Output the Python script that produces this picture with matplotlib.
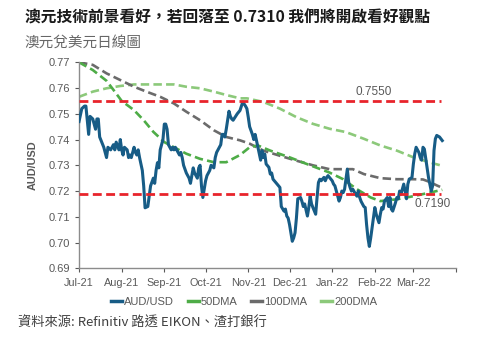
import matplotlib
matplotlib.use("Agg")
import matplotlib.pyplot as plt
import matplotlib.dates as mdates
import pandas as pd

plt.rcParams['font.family'] = ['Liberation Sans', 'Noto Sans CJK TC', 'DejaVu Sans']

base = pd.Timestamp('2021-07-01')

# AUD/USD daily close (days after 1 Jul 2021, value)
aud_day = [0, 2, 4, 5, 7, 8, 10, 12, 13, 14, 15, 18, 20, 21, 23, 25, 26, 27, 29, 30,
           31, 32, 33, 35, 36, 37, 38, 40, 41, 42, 43, 44, 46, 47, 48, 50, 51, 52, 54, 55,
           56, 57, 58, 59, 61, 62, 63, 64, 65, 67, 68, 69, 70, 72, 73, 74, 75, 76, 78, 79,
           80, 81, 82, 83, 84, 86, 87, 88, 89, 90, 92, 93, 94, 95, 96, 98, 99, 100, 101, 103,
           104, 105, 106, 107, 109, 110, 111, 112, 115, 117, 119, 121, 122, 123, 124, 126, 127, 128, 129, 130,
           132, 133, 134, 135, 136, 138, 139, 140, 141, 144, 145, 146, 147, 149, 150, 151, 152, 153, 155, 156,
           157, 158, 159, 161, 162, 163, 164, 166, 167, 168, 169, 170, 172, 173, 174, 175, 176, 178, 179, 180,
           181, 182, 184, 185, 186, 187, 189, 190, 191, 192, 193, 195, 196, 197, 198, 199, 201, 202, 203, 204,
           205, 207, 208, 209, 210, 211, 212, 213, 214, 215, 216, 218, 219, 220, 221, 222, 224, 225, 226, 227,
           228, 230, 231, 232, 233, 234, 236, 237, 238, 239, 240, 242, 243, 244, 245, 247, 248, 249, 250, 251,
           253, 254, 255, 256, 257, 258, 259, 260, 262, 263, 264]
aud_val = [0.747, 0.752, 0.753, 0.753, 0.742, 0.749, 0.748, 0.744, 0.748, 0.748, 0.741, 0.737, 0.733, 0.737, 0.736, 0.738, 0.736, 0.739, 0.736, 0.740,
           0.736, 0.734, 0.737, 0.736, 0.733, 0.734, 0.733, 0.737, 0.735, 0.734, 0.736, 0.733, 0.728, 0.722, 0.7135, 0.714, 0.718, 0.722, 0.725, 0.723,
           0.728, 0.731, 0.729, 0.736, 0.740, 0.746, 0.746, 0.744, 0.738, 0.736, 0.737, 0.736, 0.737, 0.735, 0.734, 0.735, 0.733, 0.730, 0.727, 0.726,
           0.725, 0.723, 0.726, 0.729, 0.727, 0.725, 0.729, 0.730, 0.722, 0.7175, 0.724, 0.726, 0.727, 0.728, 0.730, 0.729, 0.733, 0.735, 0.736, 0.738,
           0.742, 0.742, 0.741, 0.744, 0.751, 0.749, 0.748, 0.7475, 0.750, 0.7513, 0.7546, 0.753, 0.752, 0.7487, 0.745, 0.742, 0.740, 0.742, 0.7396, 0.737,
           0.732, 0.7357, 0.733, 0.7344, 0.7305, 0.7292, 0.7266, 0.727, 0.7246, 0.7227, 0.722, 0.7214, 0.714, 0.7122, 0.713, 0.7103, 0.7095, 0.707, 0.7005, 0.7018,
           0.7038, 0.7095, 0.717, 0.7175, 0.716, 0.714, 0.715, 0.7103, 0.7136, 0.718, 0.715, 0.7136, 0.711, 0.7175, 0.7233, 0.7246, 0.724, 0.7253, 0.724, 0.7253,
           0.726, 0.7253, 0.724, 0.7227, 0.722, 0.720, 0.7161, 0.7175, 0.720, 0.7194, 0.7207, 0.7285, 0.7233, 0.7214, 0.720, 0.7207, 0.7188, 0.718, 0.720, 0.7175,
           0.716, 0.714, 0.7136, 0.707, 0.7018, 0.6985, 0.7018, 0.7057, 0.7095, 0.7136, 0.711, 0.7077, 0.711, 0.7136, 0.713, 0.7161, 0.7175, 0.714, 0.7175, 0.713,
           0.7122, 0.7155, 0.7175, 0.717, 0.720, 0.7188, 0.7227, 0.720, 0.717, 0.7227, 0.7246, 0.7253, 0.7305, 0.7344, 0.737, 0.735, 0.733, 0.732, 0.737, 0.7363,
           0.729, 0.7253, 0.7227, 0.720, 0.722, 0.7357, 0.7403, 0.7416, 0.741, 0.7403, 0.7396]

# moving averages
ma50_day = [0, 10, 20, 25, 31, 40, 47, 54, 62, 69, 78, 88, 98, 107, 117, 124, 130, 139, 153,
            168, 182, 192, 202, 212, 219, 231, 243, 255, 264]
ma50_val = [0.770, 0.767, 0.7628, 0.7593, 0.755, 0.7514, 0.7475, 0.743, 0.739, 0.737, 0.7345, 0.7325, 0.7312, 0.7312, 0.734, 0.737, 0.7377, 0.7357, 0.7331,
            0.730, 0.7272, 0.7246, 0.7207, 0.7175, 0.7161, 0.7168, 0.718, 0.7194, 0.7205]

ma100_day = [0, 10, 20, 30, 40, 49, 59, 69, 78, 88, 98, 107, 117, 124, 134, 146, 158, 170, 182,
             194, 199, 207, 219, 231, 243, 250, 255, 260, 263]
ma100_val = [0.770, 0.769, 0.7657, 0.7631, 0.7605, 0.7586, 0.7566, 0.754, 0.7508, 0.7475, 0.7436, 0.741, 0.7397, 0.7384, 0.7357, 0.7337, 0.7318, 0.730, 0.7285,
             0.7285, 0.7285, 0.7266, 0.725, 0.7246, 0.7246, 0.7245, 0.7235, 0.7222, 0.7215]

ma200_day = [0, 10, 20, 30, 40, 49, 59, 69, 78, 88, 98, 107, 117, 122, 134, 146, 158, 170, 182,
             194, 207, 219, 231, 243, 255, 264]
ma200_val = [0.7566, 0.7586, 0.7599, 0.7608, 0.7614, 0.7614, 0.7614, 0.7614, 0.7605, 0.7599, 0.7586, 0.7573, 0.756, 0.756, 0.7546, 0.752, 0.7487, 0.7461, 0.7442,
             0.7429, 0.7403, 0.7377, 0.7357, 0.7331, 0.7311, 0.7298]

levels = [0.7550, 0.7190]
level_end_day = 263


def to_dates(days):
    return base + pd.to_timedelta(days, unit='D')


def month_label(x, pos):
    d = mdates.num2date(x)
    if d.year == 2022 and d.month == 4:
        return ''
    return d.strftime('%b-%y')


fig = plt.figure(figsize=(4.86, 3.48), dpi=100)
ax = fig.add_axes([0.1626, 0.229, 0.7757, 0.592])

dash = (0, (3.2, 1.6))
ax.plot(to_dates(ma200_day), ma200_val, color='#8cc97a', lw=1.9, ls=dash, label='200DMA', zorder=2)
ax.plot(to_dates(ma100_day), ma100_val, color='#6b6b6b', lw=1.9, ls=dash, label='100DMA', zorder=2)
ax.plot(to_dates(ma50_day), ma50_val, color='#4eac47', lw=1.9, ls=dash, label='50DMA', zorder=2)
ax.plot(to_dates(aud_day), aud_val, color='#175c86', lw=2.2, label='AUD/USD', zorder=3)

for lv in levels:
    ax.plot(to_dates([0, level_end_day]), [lv, lv], color='#e8242b', lw=2.0, ls=dash, zorder=4)

ax.text(to_dates([214])[0], 0.7585, '0.7550', color='#595959', fontsize=8.5, ha='center', va='center')
ax.text(to_dates([257])[0], 0.7150, '0.7190', color='#595959', fontsize=8.5, ha='center', va='center')

ax.set_xlim(pd.Timestamp('2021-07-01'), pd.Timestamp('2022-04-01'))
ax.set_ylim(0.69, 0.77)
ax.set_yticks([0.69 + 0.01 * i for i in range(9)])
ax.yaxis.set_major_formatter(matplotlib.ticker.FormatStrFormatter('%.2f'))
ax.xaxis.set_major_locator(mdates.MonthLocator())
ax.xaxis.set_major_formatter(matplotlib.ticker.FuncFormatter(month_label))
ax.tick_params(axis='both', colors='#595959', labelsize=8, length=3, width=0.8)
ax.tick_params(axis='x', labelsize=7.8, pad=4)
for s in ['top', 'right']:
    ax.spines[s].set_visible(False)
for s in ['left', 'bottom']:
    ax.spines[s].set_color('#8c8c8c')
    ax.spines[s].set_linewidth(1.0)
ax.set_ylabel('AUD/USD', fontsize=7.8, fontweight='bold', color='#595959', labelpad=8)

handles, labels = ax.get_legend_handles_labels()
order = [3, 2, 1, 0]
fig.legend([handles[i] for i in order], [labels[i] for i in order],
           loc='center', bbox_to_anchor=(0.502, 0.133), ncol=4, frameon=False,
           fontsize=8, handlelength=1.0, handletextpad=0.2, columnspacing=1.2,
           labelcolor='#595959')
leg = fig.legends[0]
for h in leg.legend_handles:
    h.set_linestyle('-')
    h.set_linewidth(2.5)

fig.text(0.051, 0.951, '澳元技術前景看好，若回落至 0.7310 我們將開啟看好觀點',
         fontsize=11.3, fontweight='bold', color='#1a1a1a', ha='left', va='center',
         family=['Noto Sans CJK TC', 'DejaVu Sans'])
fig.text(0.051, 0.876, '澳元兌美元日線圖', fontsize=10.5, color='#666666',
         ha='left', va='center', family=['Noto Sans CJK TC', 'DejaVu Sans'])
fig.text(0.037, 0.072, '資料來源: Refinitiv 路透 EIKON、渣打銀行', fontsize=9.5,
         color='#404040', ha='left', va='center', family=['Noto Sans CJK TC', 'DejaVu Sans'])

fig.savefig('out.png', dpi=100)
